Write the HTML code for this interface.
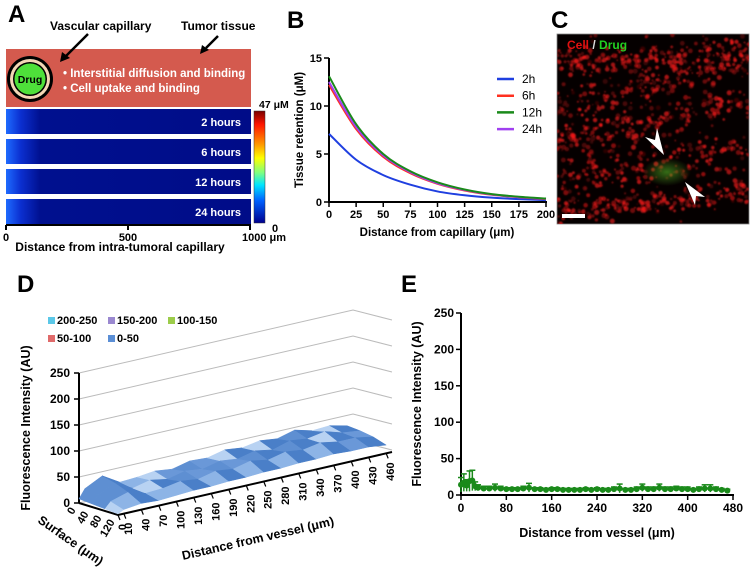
<!DOCTYPE html>
<html><head><meta charset="utf-8"><style>
html,body{margin:0;padding:0;background:#fff;}
svg{display:block;font-family:"Liberation Sans",Arial,sans-serif;font-weight:bold;}
</style></head><body>
<svg id="fig" width="750" height="577" viewBox="0 0 750 577" xmlns="http://www.w3.org/2000/svg">
<defs>
<linearGradient id="barg" x1="0" x2="1" y1="0" y2="0">
<stop offset="0" stop-color="#1e6bff"/><stop offset="0.06" stop-color="#0b2fd0"/><stop offset="0.14" stop-color="#00108f"/><stop offset="1" stop-color="#000c88"/></linearGradient>
<linearGradient id="jet" x1="0" x2="0" y1="0" y2="1">
<stop offset="0" stop-color="#7a0000"/><stop offset="0.12" stop-color="#ff1500"/><stop offset="0.3" stop-color="#ff9a00"/><stop offset="0.42" stop-color="#ffff00"/><stop offset="0.55" stop-color="#7fff80"/><stop offset="0.66" stop-color="#00e5ff"/><stop offset="0.8" stop-color="#0060ff"/><stop offset="1" stop-color="#00008f"/></linearGradient>
<radialGradient id="glow" cx="0.5" cy="0.5" r="0.5"><stop offset="0" stop-color="#4a9a20" stop-opacity="0.7"/><stop offset="1" stop-color="#4a9a20" stop-opacity="0"/></radialGradient>
<filter id="blur" x="-5%" y="-5%" width="110%" height="110%"><feGaussianBlur stdDeviation="0.7"/></filter>
<clipPath id="cclip"><rect x="557" y="34" width="192" height="190"/></clipPath>
</defs>

<!-- Panel A -->
<g>
<text x="8" y="22" font-size="24">A</text>
<text x="50" y="30" font-size="12">Vascular capillary</text>
<text x="181" y="30" font-size="12">Tumor tissue</text>
<rect x="6" y="49" width="245" height="58" fill="#d45a4e"/>
<line x1="88" y1="34" x2="66" y2="56" stroke="#000" stroke-width="2.5"/>
<polygon points="60,62 62,52 70,58" fill="#000"/>
<line x1="218" y1="36" x2="206" y2="48" stroke="#000" stroke-width="2.5"/>
<polygon points="200,54 202,45 209,50" fill="#000"/>
<circle cx="30" cy="79" r="23" fill="#000"/>
<circle cx="30" cy="79" r="20" fill="#f3d6b5"/>
<circle cx="30" cy="79" r="17" fill="#000"/>
<circle cx="30" cy="79" r="15.5" fill="#4ee03a"/>
<text x="30" y="83" font-size="10.5" text-anchor="middle">Drug</text>
<text x="63" y="77" font-size="11.5" fill="#fff">•   Interstitial diffusion and binding</text>
<text x="63" y="92" font-size="11.5" fill="#fff">•   Cell uptake and binding</text>
<g id="abars"></g>
<rect x="254" y="111" width="11" height="112" fill="url(#jet)" stroke="#333" stroke-width="0.5"/>
<text x="259" y="108" font-size="10.5">47 μM</text>
<text x="272" y="232" font-size="11">0</text>
<line x1="6" y1="225" x2="251" y2="225" stroke="#000" stroke-width="2"/>
<g id="aticks"></g>
<text x="120" y="251" font-size="12" text-anchor="middle">Distance from intra-tumoral capillary</text>
</g>

<!-- Panel B -->
<g>
<text x="287" y="28" font-size="24">B</text>
<g id="bchart"></g>
<text x="437" y="236" font-size="11.5" text-anchor="middle">Distance from capillary (μm)</text>
<text transform="translate(303,130) rotate(-90)" font-size="11.5" text-anchor="middle">Tissue retention (μM)</text>
</g>

<!-- Panel C -->
<g>
<text x="551" y="28" font-size="24">C</text>
<rect x="557" y="34" width="192" height="190" fill="#050000" stroke="#888" stroke-width="0.8"/>
<g id="cdots" clip-path="url(#cclip)" filter="url(#blur)"></g>
<ellipse cx="667" cy="172" rx="24" ry="14" fill="url(#glow)"/>
<text x="567" y="49" font-size="12"><tspan fill="#e01010">Cell</tspan><tspan fill="#ddd"> / </tspan><tspan fill="#22d022">Drug</tspan></text>
<polygon points="664,155 645,137 655,140 657,128" fill="#fff"/>
<polygon points="685,182 695,205 696,196 705,197" fill="#fff"/>
<rect x="562" y="214" width="23" height="4" fill="#fff"/>
</g>

<!-- Panel D -->
<g>
<text x="17" y="292" font-size="24">D</text>
<g id="dchart"></g>
<text transform="translate(30,428) rotate(-90)" font-size="12.5" text-anchor="middle">Fluorescence Intensity (AU)</text>
<text transform="translate(37,522) rotate(35)" font-size="12.5">Surface (μm)</text>
<text transform="translate(183,560) rotate(-13)" font-size="12.5">Distance from vessel (μm)</text>
</g>

<!-- Panel E -->
<g>
<text x="401" y="292" font-size="24">E</text>
<g id="echart"></g>
<text transform="translate(421,404) rotate(-90)" font-size="12.5" text-anchor="middle">Fluorescence Intensity (AU)</text>
<text x="597" y="537" font-size="12.5" text-anchor="middle">Distance from vessel (μm)</text>
</g>
</svg>
<script>
// ---------- Data ----------
const aTimeLabels = ["2 hours","6 hours","12 hours","24 hours"];
const aTicks = [0, 500, 1000];

const bDistances = [0,25,50,75,100,125,150,175,200];
const bSeriesNames = ["2h","6h","12h","24h"];
const b2h  = [7.1,4.4,2.8,1.8,1.1,0.7,0.45,0.3,0.2];
const b6h  = [12.2,7.6,4.7,3.0,1.9,1.2,0.75,0.5,0.3];
const b12h = [13.1,8.1,5.0,3.2,2.05,1.3,0.82,0.55,0.36];
const b24h = [12.5,7.8,4.85,3.1,1.95,1.25,0.78,0.52,0.33];
const bYTicks = [0,5,10,15];
const bXTicks = [0,25,50,75,100,125,150,175,200];

const dXCats = [0,10,40,70,100,130,160,190,220,250,280,310,340,370,400,430,460];
const dSurf = [0,40,80,120];
const dRow0 = [8,25,42,22,24,28,24,32,30,38,34,40,36,45,36,38,30];
const dRow1 = [6,20,36,18,26,20,28,24,32,28,36,30,40,36,42,32,28];
const dRow2 = [4,16,26,16,18,24,20,28,24,32,26,34,30,36,30,30,24];
const dRow3 = [2,8,12,10,12,14,14,16,16,18,18,20,20,22,20,20,16];
const dYTicks = [0,50,100,150,200,250];
const dLegend = ["200-250","150-200","100-150","50-100","0-50"];

const eX = [0,5,10,15,20,25,30,40,50,60,70,80,90,100,110,120,130,140,150,160,170,180,190,200,210,220,230,240,250,260,270,280,290,300,310,320,330,340,350,360,370,380,390,400,410,420,430,440,450,460,470];
const eMean = [14,17,13,19,20,12,10,9,9,10,9,8,8,8,9,10,8,8,7,8,8,7,7,7,7,8,7,8,7,7,8,9,7,7,8,10,8,8,10,8,8,9,8,8,7,8,9,9,8,7,6];
const eErr  = [10,12,8,14,14,6,4,3,3,5,3,2,2,2,3,6,2,2,2,2,2,2,2,2,2,2,2,2,2,2,3,6,2,2,3,5,3,3,5,3,3,3,3,3,2,3,5,5,3,2,2];
const eYTicks = [0,50,100,150,200,250];
const eXTicks = [0,80,160,240,320,400,480];

const NS = "http://www.w3.org/2000/svg";
function mk(tag, attrs, parent){const e=document.createElementNS(NS,tag);for(const k in attrs)e.setAttribute(k,attrs[k]);parent.appendChild(e);return e;}

// ---------- Panel A ----------
(function(){
  const g=document.getElementById('abars');
  const tops=[109,139,169,199];
  aTimeLabels.forEach((t,i)=>{
    const r=mk('rect',{x:6,y:tops[i],width:245,height:25,fill:'url(#barg)'},g);
    
    
    const tx=mk('text',{x:241,y:tops[i]+17,'font-size':11,fill:'#fff','text-anchor':'end'},g);
    tx.textContent=t;
    
    
  });
  const ax=v=>6+v/1000*244;
  const tg=document.getElementById('aticks');
  aTicks.forEach(v=>{
    mk('line',{x1:ax(v),y1:225,x2:ax(v),y2:230,stroke:'#000','stroke-width':2},tg);
    const t=mk('text',{x:ax(v),y:241,'font-size':11,'text-anchor':'middle'},tg);
    t.textContent= v===1000 ? '1000 μm' : String(v);
    if(v===1000) t.setAttribute('x',ax(v)+14);
    
    
  });
})();

// ---------- Panel B ----------
(function(){
  const g=document.getElementById('bchart');
  const x=v=>329+v/200*217, y=v=>202-v/15*144;
  mk('line',{x1:329,y1:58,x2:329,y2:203,stroke:'#000','stroke-width':2},g);
  mk('line',{x1:328,y1:202,x2:547,y2:202,stroke:'#000','stroke-width':2},g);
  bYTicks.forEach(v=>{
    mk('line',{x1:324,y1:y(v),x2:329,y2:y(v),stroke:'#000','stroke-width':1.5},g);
    const t=mk('text',{x:322,y:y(v)+4,'font-size':11,'text-anchor':'end'},g);t.textContent=v;
    
    
  });
  bXTicks.forEach(v=>{
    mk('line',{x1:x(v),y1:202,x2:x(v),y2:207,stroke:'#000','stroke-width':1.5},g);
    const t=mk('text',{x:x(v),y:218,'font-size':11,'text-anchor':'middle'},g);t.textContent=v;
    
    
  });
  const series=[b2h,b6h,b24h,b12h], names=["2h","6h","24h","12h"], cols=["#1f3fe0","#ff3020","#a040f0","#1a8a1a"];
  series.forEach((s,i)=>{
    const pts=bDistances.map((d,j)=>[x(d),y(s[j])]);
    let dstr='M'+pts[0][0]+','+pts[0][1];
    for(let j=0;j<pts.length-1;j++){
      const p0=pts[Math.max(0,j-1)],p1=pts[j],p2=pts[j+1],p3=pts[Math.min(pts.length-1,j+2)];
      const c1=[p1[0]+(p2[0]-p0[0])/6,p1[1]+(p2[1]-p0[1])/6],c2=[p2[0]-(p3[0]-p1[0])/6,p2[1]-(p3[1]-p1[1])/6];
      dstr+=` C${c1[0]},${c1[1]} ${c2[0]},${c2[1]} ${p2[0]},${p2[1]}`;
    }
    const p=mk('path',{d:dstr,fill:'none',stroke:cols[i],'stroke-width':2},g);
    
    
  });
  const lc={"2h":"#1f3fe0","6h":"#ff3020","12h":"#1a8a1a","24h":"#a040f0"};
  bSeriesNames.forEach((n,i)=>{
    const yy=79+i*16.7;
    mk('line',{x1:497,y1:yy,x2:514,y2:yy,stroke:lc[n],'stroke-width':2.5},g);
    const t=mk('text',{x:522,y:yy+4,'font-size':12,'font-weight':'normal'},g);t.textContent=n;
    
    
  });
})();

// ---------- Panel C micrograph dots (decorative image texture) ----------
(function(){
  const g=document.getElementById('cdots');
  let s=12345;const rnd=()=>{s=(s*1103515245+12345)%2147483648;return s/2147483648;};
  const bands=[[62,-0.05,12],[108,-0.25,14],[140,-0.2,14],[178,-0.15,16],[212,-0.1,10]];
  for(let i=0;i<1100;i++){
    const xx=557+rnd()*192;
    let yy;
    if(rnd()<0.88){const b=bands[Math.floor(rnd()*bands.length)];yy=b[0]+(xx-557)*b[1]+(rnd()+rnd()-1)*b[2]*1.4;}
    else yy=34+rnd()*190;
    mk('circle',{cx:xx.toFixed(1),cy:yy.toFixed(1),r:(0.9+rnd()*1.7).toFixed(1),fill:'#ff1a1a','fill-opacity':(0.15+rnd()*0.55).toFixed(2)},g);
  }
})();

// ---------- Panel D ----------
(function(){
  const g=document.getElementById('dchart');
  const P=(xv,sv,val)=>[79+xv/470*274+sv/120*39, 503-xv/470*63+sv/120*12-val*0.52];
  dYTicks.forEach(v=>{
    const a=P(0,0,v),b=P(470,0,v);
    mk('polyline',{points:`${a[0]},${a[1]} ${b[0]},${b[1]} ${b[0]+39},${b[1]+10}`,fill:'none',stroke:'#bbb','stroke-width':1},g);
    mk('line',{x1:74,y1:a[1],x2:79,y2:a[1],stroke:'#000','stroke-width':1.5},g);
    const t=mk('text',{x:70,y:a[1]+4,'font-size':12,'text-anchor':'end'},g);t.textContent=v;
    
    
  });
  mk('line',{x1:79,y1:P(0,0,250)[1],x2:79,y2:503,stroke:'#000','stroke-width':2},g);
  const f0=P(0,0,0),f1=P(0,120,0),f2=P(470,120,0);
  mk('polyline',{points:`${f0[0]},${f0[1]} ${f1[0]},${f1[1]} ${f2[0]},${f2[1]}`,fill:'none',stroke:'#000','stroke-width':2},g);
  const rows=[dRow0,dRow1,dRow2,dRow3];
  const shades=['#4a7fc8','#6a98d8','#8db4e6','#b8d2f2','#5e8fd2'];
  for(let r=0;r<rows.length-1;r++){
    for(let c=0;c<dXCats.length-1;c++){
      const a=P(dXCats[c],dSurf[r],rows[r][c]),b=P(dXCats[c+1],dSurf[r],rows[r][c+1]),
            cc=P(dXCats[c+1],dSurf[r+1],rows[r+1][c+1]),d=P(dXCats[c],dSurf[r+1],rows[r+1][c]);
      const slope=(rows[r][c+1]-rows[r][c])+(rows[r+1][c]-rows[r][c]);
      const col=shades[Math.max(0,Math.min(4,Math.round(2+slope/8)))];
      const q=mk('polygon',{points:`${a} ${b} ${cc} ${d}`,fill:col,stroke:col,'stroke-width':0.5},g);
      
      
    }
  }
  dXCats.forEach(v=>{
    const p=P(v,120,0);
    mk('line',{x1:p[0],y1:p[1],x2:p[0]+2,y2:p[1]+5,stroke:'#000','stroke-width':1.2},g);
    const t=mk('text',{transform:`translate(${p[0]+8},${p[1]+9}) rotate(-90)`,'font-size':11,'text-anchor':'end'},g);t.textContent=v;
    
    
  });
  dSurf.forEach(v=>{
    const p=P(0,v,0);
    const t=mk('text',{transform:`translate(${p[0]-3},${p[1]+7}) rotate(-60)`,'font-size':11,'text-anchor':'end'},g);t.textContent=v;
    
    
  });
  const lcols=['#5bc8e8','#9a88d0','#9ccc4a','#e06a6a','#5b8fd6'];
  const lpos=[[48,324],[108,324],[168,324],[48,342],[108,342]];
  dLegend.forEach((n,i)=>{
    mk('rect',{x:lpos[i][0],y:lpos[i][1]-7,width:7,height:7,fill:lcols[i]},g);
    const t=mk('text',{x:lpos[i][0]+9,y:lpos[i][1],'font-size':11},g);t.textContent=n;
    
    
  });
})();

// ---------- Panel E ----------
(function(){
  const g=document.getElementById('echart');
  const x=v=>461+v/480*272, y=v=>495-v/250*182;
  mk('line',{x1:461,y1:313,x2:461,y2:496,stroke:'#000','stroke-width':2},g);
  mk('line',{x1:460,y1:495,x2:734,y2:495,stroke:'#000','stroke-width':2},g);
  eYTicks.forEach(v=>{
    mk('line',{x1:456,y1:y(v),x2:461,y2:y(v),stroke:'#000','stroke-width':1.5},g);
    const t=mk('text',{x:454,y:y(v)+4,'font-size':12,'text-anchor':'end'},g);t.textContent=v;
    
    
  });
  eXTicks.forEach(v=>{
    mk('line',{x1:x(v),y1:495,x2:x(v),y2:500,stroke:'#000','stroke-width':1.5},g);
    const t=mk('text',{x:x(v),y:512,'font-size':12,'text-anchor':'middle'},g);t.textContent=v;
    
    
  });
  eX.forEach((v,i)=>{
    const xx=x(v),yt=y(eMean[i]+eErr[i]),yb=y(Math.max(0,eMean[i]-eErr[i]));
    mk('line',{x1:xx,y1:yt,x2:xx,y2:yb,stroke:'#1a8a1a','stroke-width':1.5},g);
    mk('line',{x1:xx-3,y1:yt,x2:xx+3,y2:yt,stroke:'#1a8a1a','stroke-width':1.5},g);
    const c=mk('circle',{cx:xx,cy:y(eMean[i]),r:3,fill:'#1a8a1a'},g);
    
    
  });
  let d='';eX.forEach((v,i)=>{d+=(i?'L':'M')+x(v)+','+y(eMean[i]);});
  mk('path',{d:d,fill:'none',stroke:'#1a8a1a','stroke-width':2},g);
})();
</script>
</body></html>
